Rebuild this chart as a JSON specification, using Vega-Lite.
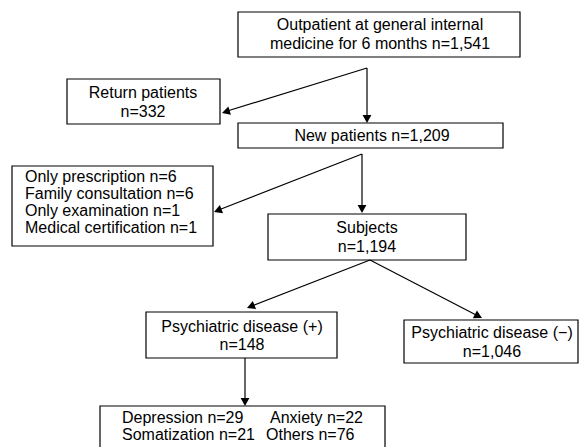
{
  "$schema": "https://vega.github.io/schema/vega-lite/v6.json",
  "width": 580,
  "height": 447,
  "padding": 0,
  "autosize": {"type": "fit", "contains": "padding"},
  "background": "white",
  "config": {"view": {"stroke": null}},
  "datasets": {
    "boxes": [
      {"id": "top", "x0": 238, "x1": 520, "y0": 12, "y1": 57},
      {"id": "return", "x0": 67, "x1": 220, "y0": 79, "y1": 124},
      {"id": "new", "x0": 238, "x1": 503, "y0": 123, "y1": 148},
      {"id": "excl", "x0": 12, "x1": 213, "y0": 166, "y1": 246},
      {"id": "subjects", "x0": 268, "x1": 466, "y0": 214, "y1": 260},
      {"id": "psyplus", "x0": 146, "x1": 337, "y0": 312, "y1": 358},
      {"id": "psyminus", "x0": 404, "x1": 578, "y0": 320, "y1": 363},
      {"id": "detail", "x0": 100, "x1": 385, "y0": 406, "y1": 452}
    ],
    "links": [
      {"x0": 367, "y0": 68, "x1": 367, "y1": 120},
      {"x0": 367, "y0": 68, "x1": 224, "y1": 112},
      {"x0": 362, "y0": 154, "x1": 362, "y1": 210},
      {"x0": 362, "y0": 154, "x1": 216, "y1": 211},
      {"x0": 370, "y0": 260, "x1": 249, "y1": 307},
      {"x0": 370, "y0": 260, "x1": 480, "y1": 317},
      {"x0": 245, "y0": 358, "x1": 245, "y1": 403}
    ],
    "arrows": [
      {"x": 367, "y": 123, "rot": 0},
      {"x": 222, "y": 113, "rot": 72.8},
      {"x": 362, "y": 213, "rot": 0},
      {"x": 214, "y": 212, "rot": 68.6},
      {"x": 247, "y": 308, "rot": 68.3},
      {"x": 482, "y": 318, "rot": -62.6},
      {"x": 245, "y": 406, "rot": 0}
    ],
    "centered": [
      {"t": "Outpatient at general internal", "x": 380, "y": 25},
      {"t": "medicine for 6 months n=1,541", "x": 380, "y": 44},
      {"t": "Return patients", "x": 143, "y": 93},
      {"t": "n=332", "x": 143, "y": 112},
      {"t": "New patients n=1,209", "x": 372, "y": 136},
      {"t": "Subjects", "x": 367, "y": 228},
      {"t": "n=1,194", "x": 367, "y": 247},
      {"t": "Psychiatric disease (+)", "x": 242, "y": 327},
      {"t": "n=148", "x": 242, "y": 345},
      {"t": "Psychiatric disease (−)", "x": 492, "y": 333},
      {"t": "n=1,046", "x": 492, "y": 352}
    ],
    "lefttext": [
      {"t": "Only prescription n=6", "x": 25, "y": 177},
      {"t": "Family consultation n=6", "x": 25, "y": 194},
      {"t": "Only examination n=1", "x": 25, "y": 211},
      {"t": "Medical certification n=1", "x": 25, "y": 228},
      {"t": "Depression n=29", "x": 122, "y": 418},
      {"t": "Anxiety n=22", "x": 270, "y": 418},
      {"t": "Somatization n=21", "x": 122, "y": 435},
      {"t": "Others n=76", "x": 266, "y": 435}
    ]
  },
  "layer": [
    {
      "data": {"name": "boxes"},
      "mark": {"type": "rect", "fill": "white", "stroke": "black", "strokeWidth": 1.2, "clip": true},
      "encoding": {
        "x": {"field": "x0", "type": "quantitative", "scale": {"domain": [0, 580], "nice": false, "zero": false}, "axis": null},
        "x2": {"field": "x1"},
        "y": {"field": "y0", "type": "quantitative", "scale": {"domain": [0, 447], "nice": false, "zero": false, "reverse": true}, "axis": null},
        "y2": {"field": "y1"}
      }
    },
    {
      "data": {"name": "links"},
      "mark": {"type": "rule", "stroke": "black", "strokeWidth": 1.2},
      "encoding": {
        "x": {"field": "x0", "type": "quantitative"},
        "x2": {"field": "x1"},
        "y": {"field": "y0", "type": "quantitative"},
        "y2": {"field": "y1"}
      }
    },
    {
      "data": {"name": "arrows"},
      "mark": {"type": "point", "shape": "M0,0L-0.55,-1L0.55,-1Z", "filled": true, "fill": "black", "stroke": null, "size": 256, "opacity": 1},
      "encoding": {
        "x": {"field": "x", "type": "quantitative"},
        "y": {"field": "y", "type": "quantitative"},
        "angle": {"field": "rot", "type": "quantitative", "scale": null}
      }
    },
    {
      "data": {"name": "centered"},
      "mark": {"type": "text", "font": "Liberation Sans", "fontSize": 16, "align": "center", "baseline": "middle", "color": "black"},
      "encoding": {
        "x": {"field": "x", "type": "quantitative"},
        "y": {"field": "y", "type": "quantitative"},
        "text": {"field": "t"}
      }
    },
    {
      "data": {"name": "lefttext"},
      "mark": {"type": "text", "font": "Liberation Sans", "fontSize": 16, "align": "left", "baseline": "middle", "color": "black"},
      "encoding": {
        "x": {"field": "x", "type": "quantitative"},
        "y": {"field": "y", "type": "quantitative"},
        "text": {"field": "t"}
      }
    }
  ]
}
